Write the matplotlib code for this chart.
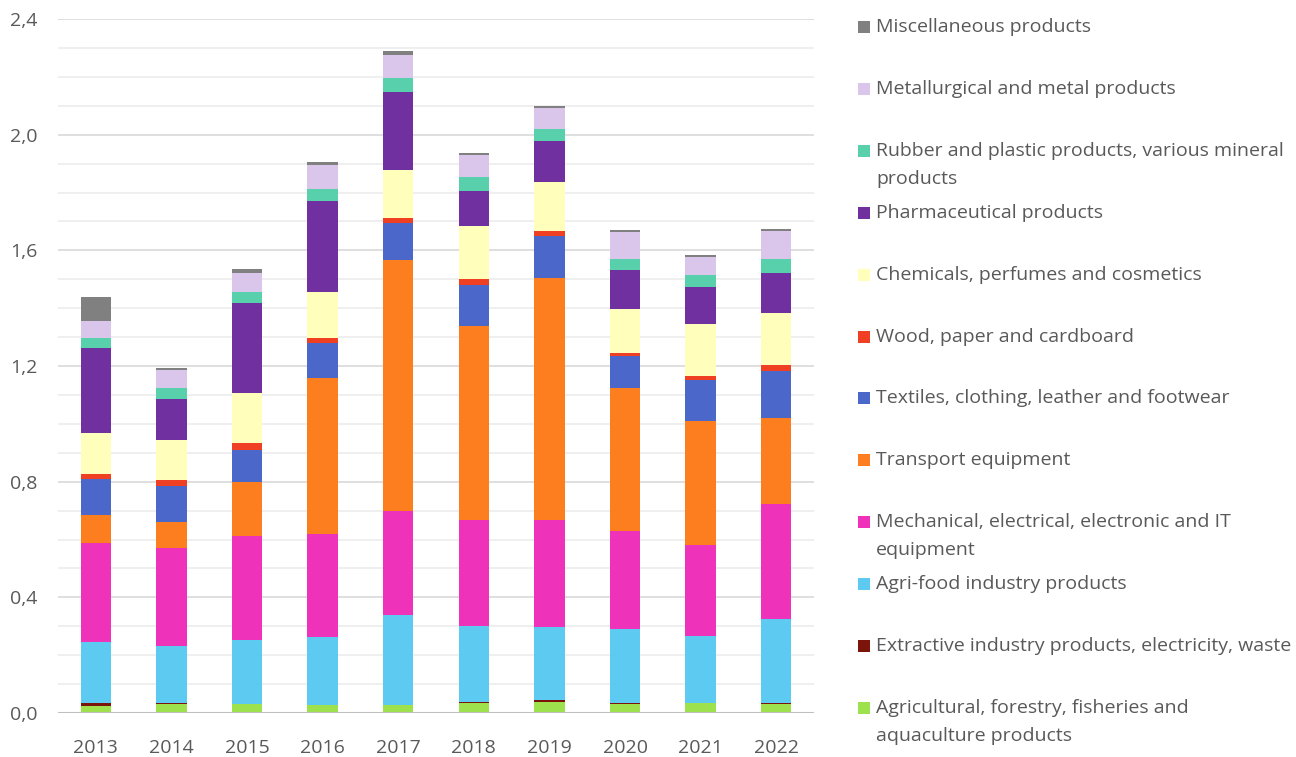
import numpy as np
import matplotlib
matplotlib.use("Agg")
import matplotlib.pyplot as plt
from matplotlib.patches import Rectangle
from matplotlib.ticker import MultipleLocator, FuncFormatter

plt.rcParams['font.family'] = ['Open Sans', 'DejaVu Sans']

years = ['2013', '2014', '2015', '2016', '2017', '2018', '2019', '2020', '2021', '2022']

# series, bottom of the stack first
agricultural = [0.023, 0.031, 0.031, 0.028, 0.028, 0.036, 0.037, 0.030, 0.034, 0.032]
extractive   = [0.011, 0.005, 0.001, 0.001, 0.001, 0.001, 0.008, 0.004, 0.001, 0.001]
agrifood     = [0.210, 0.197, 0.220, 0.235, 0.310, 0.265, 0.252, 0.258, 0.230, 0.292]
mechanical   = [0.343, 0.338, 0.361, 0.356, 0.361, 0.364, 0.370, 0.338, 0.315, 0.398]
transport    = [0.097, 0.089, 0.185, 0.539, 0.868, 0.672, 0.838, 0.495, 0.431, 0.296]
textiles     = [0.124, 0.125, 0.111, 0.119, 0.125, 0.142, 0.143, 0.109, 0.139, 0.165]
wood         = [0.020, 0.020, 0.023, 0.018, 0.019, 0.022, 0.019, 0.011, 0.017, 0.018]
chemicals    = [0.139, 0.139, 0.176, 0.160, 0.165, 0.182, 0.170, 0.151, 0.178, 0.183]
pharma       = [0.296, 0.141, 0.311, 0.314, 0.269, 0.120, 0.141, 0.135, 0.129, 0.136]
rubber       = [0.035, 0.039, 0.038, 0.043, 0.051, 0.048, 0.043, 0.040, 0.039, 0.049]
metal        = [0.059, 0.062, 0.066, 0.083, 0.080, 0.078, 0.071, 0.093, 0.064, 0.096]
misc         = [0.080, 0.007, 0.011, 0.008, 0.012, 0.008, 0.007, 0.006, 0.006, 0.009]

series = [agricultural, extractive, agrifood, mechanical, transport, textiles,
          wood, chemicals, pharma, rubber, metal, misc]
labels = [
    "Agricultural, forestry, fisheries and\naquaculture products",
    "Extractive industry products, electricity, waste",
    "Agri-food industry products",
    "Mechanical, electrical, electronic and IT\nequipment",
    "Transport equipment",
    "Textiles, clothing, leather and footwear",
    "Wood, paper and cardboard",
    "Chemicals, perfumes and cosmetics",
    "Pharmaceutical products",
    "Rubber and plastic products, various mineral\nproducts",
    "Metallurgical and metal products",
    "Miscellaneous products",
]
colors = ['#9de24c', '#7b150c', '#5dcaf2', '#ee33ba', '#fc7e1f', '#4a67c9',
          '#ef4024', '#ffffbb', '#7030a0', '#58d0ab', '#dac5eb', '#808080']

txt = '#595959'

fig = plt.figure(figsize=(12.96, 7.57), dpi=100)
ax = fig.add_axes([58 / 1296, 1 - 713 / 757, (814 - 58) / 1296, (713 - 19) / 757])

x = np.arange(len(years))
bottom = np.zeros(len(years))
for vals, col in zip(series, colors):
    ax.bar(x, vals, width=0.4, bottom=bottom, color=col, linewidth=0, zorder=3)
    bottom += np.array(vals)

ax.set_xlim(-0.5, len(years) - 0.5)
ax.set_ylim(0, 2.4)
ax.set_xticks(x)
ax.set_xticklabels(years)
ax.yaxis.set_major_locator(MultipleLocator(0.4))
ax.yaxis.set_minor_locator(MultipleLocator(0.1))
ax.yaxis.set_major_formatter(FuncFormatter(lambda v, p: f"{v:.1f}".replace('.', ',')))
ax.grid(axis='y', which='minor', color='#ececec', linewidth=1.2, zorder=0)
ax.grid(axis='y', which='major', color='#d9d9d9', linewidth=1.2, zorder=0)
ax.axhline(0, color='#bfbfbf', linewidth=1.5, zorder=4)
for s in ax.spines.values():
    s.set_visible(False)
ax.tick_params(axis='both', which='both', length=0, labelsize=14, labelcolor=txt)
ax.tick_params(axis='x', pad=19)
ax.tick_params(axis='y', pad=15)

# legend drawn by hand: marker aligned with the first line of each label
W, H = 1296, 757
for i, (lab, col) in enumerate(zip(labels[::-1], colors[::-1])):
    yc = 27 + i * 61.9
    fig.patches.append(Rectangle((858 / W, 1 - (yc + 6) / H), 12 / W, 12 / H,
                                 transform=fig.transFigure, facecolor=col,
                                 edgecolor='none'))
    for j, line in enumerate(lab.split('\n')):
        fig.text(876 / W, 1 - (yc + j * 28) / H, line, fontsize=14, color=txt,
                 ha='left', va='center')

fig.savefig('out.png', dpi=100)
